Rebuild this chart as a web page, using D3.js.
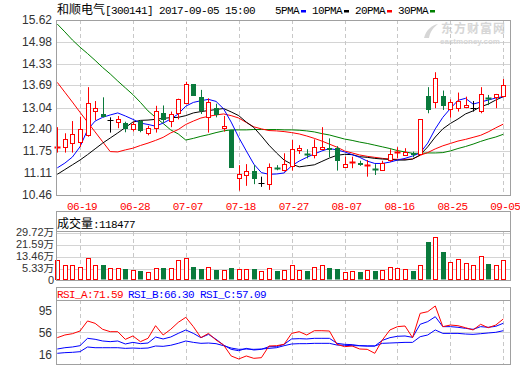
<!DOCTYPE html>
<html>
<head>
<meta charset="utf-8">
<script src="https://cdn.jsdelivr.net/npm/d3@7"></script>
<style>
  html, body { margin: 0; padding: 0; background: #fff; }
  svg { display: block; }
</style>
</head>
<body>
<div id="chart"></div>
<script>
// ---- data ----
const dates = ["06-14","06-15","06-16","06-19","06-20","06-21","06-22","06-23","06-26","06-27",
  "06-28","06-29","06-30","07-03","07-04","07-05","07-06","07-07","07-10","07-11",
  "07-12","07-13","07-14","07-17","07-18","07-19","07-20","07-21","07-24","07-25",
  "07-26","07-27","07-28","07-31","08-01","08-02","08-03","08-04","08-07","08-08",
  "08-09","08-10","08-11","08-14","08-15","08-16","08-17","08-18","08-21","08-22",
  "08-23","08-24","08-25","08-28","08-29","08-30","08-31","09-01","09-04","09-05"];
const tickDates = ["06-19","06-28","07-07","07-18","07-27","08-07","08-16","08-25","09-05"];

const open  = [11.83,11.87,11.98,12.01,12.21,12.95,12.85,12.67,12.59,12.57,12.38,12.63,12.28,12.46,12.87,12.65,12.87,13.18,13.73,13.34,
  12.74,13.02,12.44,12.38,10.95,11.07,11.17,10.80,10.80,11.27,11.20,11.32,11.77,11.68,11.64,11.82,11.84,11.84,11.28,11.40,
  11.39,11.31,11.23,11.20,11.49,11.69,11.62,11.69,11.67,13.38,13.19,13.38,12.99,13.03,13.05,13.02,12.94,13.33,13.34,13.39];
const high  = [12.46,12.28,12.64,12.77,13.64,13.23,13.34,12.75,12.79,12.62,12.62,12.67,12.50,13.09,13.10,12.92,13.30,13.80,13.73,13.56,
  13.31,13.15,12.79,12.38,11.34,11.37,11.34,11.00,11.39,11.34,11.69,12.08,11.93,11.81,12.10,12.46,12.13,11.90,11.59,11.59,
  11.47,11.49,11.37,11.47,11.81,11.87,11.84,11.74,12.69,13.64,14.08,13.54,13.28,13.48,13.36,13.23,13.64,13.41,13.44,13.88];
const low   = [11.71,11.71,11.71,11.88,12.18,12.67,12.75,12.30,12.43,12.31,12.33,12.31,12.22,12.30,12.59,12.46,12.69,13.14,13.39,12.85,
  12.30,12.75,12.33,11.27,10.59,10.73,10.78,10.70,10.61,11.19,11.15,11.18,11.67,11.54,11.54,11.82,11.57,11.18,11.28,11.25,
  11.32,11.00,11.05,11.20,11.44,11.54,11.62,11.57,11.64,12.87,13.02,12.97,12.74,12.92,13.02,12.92,12.87,13.11,13.02,13.34];
const close = [11.87,12.10,12.25,12.40,13.16,13.03,12.75,12.67,12.69,12.40,12.54,12.34,12.43,12.95,12.67,12.85,13.28,13.73,13.39,12.92,
  13.19,12.82,12.49,11.27,11.08,11.18,10.92,10.80,11.29,11.25,11.37,11.81,11.84,11.66,11.88,11.88,11.79,11.47,11.37,11.42,
  11.32,11.33,11.21,11.41,11.66,11.72,11.72,11.62,12.69,12.97,13.90,13.09,13.19,13.23,13.11,13.02,13.44,13.30,13.44,13.70];

const ma5  = [11.26,11.40,11.58,11.88,12.38,12.64,12.75,12.82,12.88,12.79,12.69,12.58,12.54,12.49,12.58,12.70,12.85,13.08,13.19,13.24,
  13.28,13.22,13.00,12.61,12.16,11.76,11.37,11.12,11.07,11.08,11.11,11.32,11.46,11.57,11.67,11.76,11.83,11.79,11.73,11.65,
  11.57,11.46,11.39,11.39,11.43,11.49,11.54,11.61,11.70,11.99,12.41,12.75,13.01,13.25,13.31,13.14,13.20,13.26,13.32,13.36];
const ma10 = [11.07,11.21,11.35,11.49,11.65,11.82,11.99,12.14,12.29,12.45,12.61,12.66,12.67,12.69,12.72,12.74,12.75,12.80,12.88,12.92,
  12.95,12.98,13.01,12.91,12.80,12.61,12.45,12.20,11.93,11.70,11.49,11.37,11.29,11.32,11.35,11.45,11.55,11.63,11.66,11.65,
  11.59,11.57,11.54,11.52,11.51,11.49,11.49,11.52,11.64,11.88,12.17,12.41,12.57,12.70,12.85,12.94,13.06,13.14,13.26,13.36];
const ma20 = [13.78,13.49,13.20,12.90,12.61,12.32,12.03,11.74,11.73,11.79,11.84,11.92,11.99,12.07,12.16,12.29,12.39,12.54,12.64,12.73,
  12.78,12.82,12.85,12.80,12.73,12.60,12.47,12.41,12.36,12.35,12.33,12.30,12.26,12.20,12.13,12.05,11.96,11.87,11.76,11.70,
  11.64,11.60,11.57,11.54,11.52,11.51,11.51,11.52,11.63,11.71,11.82,11.91,11.98,12.05,12.10,12.16,12.22,12.32,12.44,12.55];
const ma30 = [15.50,15.27,15.03,14.82,14.63,14.43,14.22,14.03,13.82,13.62,13.42,13.19,12.94,12.75,12.57,12.38,12.26,12.08,12.13,12.19,
  12.24,12.30,12.35,12.38,12.38,12.38,12.39,12.39,12.39,12.39,12.38,12.38,12.37,12.35,12.32,12.27,12.23,12.17,12.11,12.07,
  12.02,11.98,11.93,11.88,11.83,11.77,11.73,11.69,11.69,11.70,11.70,11.71,11.76,11.83,11.89,11.96,12.04,12.11,12.17,12.25];

// volume in 万
const volume = [11.65,8.27,8.27,6.71,12.8,8.27,8.27,6.03,6.03,5.35,4.88,4.2,3.3,6.03,6.03,6.03,11.65,12.8,6.71,5.35,
  6.71,4.88,4.88,6.03,5.35,5.35,5.35,4.2,6.03,4.4,4.88,8.06,4.88,4.4,6.71,8.06,6.23,5.56,3.3,4.2,
  3.52,4.88,4.4,4.88,6.71,6.03,5.35,4.4,8.27,24.1,27.0,17.3,10.3,12.1,9.4,8.27,14.4,8.9,8.27,11.8477];

const rsiA = [48.5,51.8,53.4,56.7,69.1,66.2,58.8,55.9,55.9,46.4,50.6,43.6,47.7,63.3,51.8,58.8,67.4,73.6,62.1,48.5,
  53.8,45.6,39.4,25.9,22.2,25.9,23.0,23.8,38.2,38.6,40.3,53.8,55.9,51.8,57.1,57.1,56.7,40.3,37.4,38.2,
  34.5,34.1,29.2,45.6,58.0,62.1,62.9,48.5,78.5,80.6,87.6,62.1,64.1,63.3,60.8,58.0,65.0,60.8,64.1,71.59];
const rsiB = [34.5,36.1,37.0,38.6,47.7,46.5,44.4,43.6,44.4,40.7,42.7,41.1,41.9,49.3,46.9,49.3,53.8,58.0,53.8,48.5,
  52.6,46.5,39.4,34.1,32.4,35.3,33.3,34.1,37.4,37.4,40.3,46.9,47.3,46.9,47.7,47.7,47.7,41.5,40.3,39.9,
  38.6,38.2,38.2,45.2,48.5,50.2,50.6,48.9,65.0,68.3,74.4,62.1,62.1,61.3,60.0,58.8,62.1,61.3,62.5,66.30];
const rsiC = [29.2,30.0,30.4,31.2,37.0,36.1,36.1,36.1,36.1,35.3,35.7,35.3,35.7,38.2,37.8,39.1,41.5,44.4,42.7,41.5,
  41.9,41.1,38.6,35.7,34.1,34.5,34.1,34.5,35.3,36.1,38.6,40.7,41.1,41.1,41.5,41.5,41.5,39.4,39.1,38.6,
  38.6,38.2,38.2,41.5,41.9,42.3,42.7,42.7,49.7,51.8,58.0,53.8,53.8,53.8,53.0,52.6,53.4,54.3,55.1,57.09];

const priceTicks = ["15.62","14.98","14.33","13.69","13.04","12.40","11.75","11.11","10.46"];
const volTicks = [29.72, 21.59, 13.46, 5.33];
const rsiTicks = [95, 56, 16];
const maNames = ["5PMA", "10PMA", "20PMA", "30PMA"];
const maColors = ["#0000ff", "#000000", "#ff0000", "#008000"];

// ---- layout ----
const W = 520, H = 365;
const L = 56, R = 510;
const RED = "#ff0000", GREEN = "#0a7a3c", FRAME = "#a0a0a0", GRID = "#d4d4d4", DASH = "#c8c8c8";
const mono = "'Liberation Mono', 'DejaVu Sans Mono', monospace";
const cjk = "'Noto Sans CJK SC', sans-serif";
const sans = "'Liberation Sans', Arial, sans-serif";
const crisp = v => Math.round(v) + 0.5;

const svg = d3.select("#chart").append("svg")
  .attr("width", W).attr("height", H)
  .style("background", "#fff");

const x = d3.scalePoint().domain(dates).range([57.3, 503.3]);
const y = d3.scaleLinear().domain([10.46, 15.62]).range([195, 20]);
const yVol = d3.scaleLinear().domain([0, 29.72]).range([277.2, 233.3]);
const yRsi = d3.scaleLinear().domain([16, 95]).range([364, 300]);

// watermark
const wm = svg.append("g").attr("fill", "#d6d6d6").attr("font-weight", "bold");
wm.append("text").attr("x", 441).attr("y", 33).attr("font-family", cjk).attr("font-size", 12)
  .attr("letter-spacing", 1).text("东方财富网");
wm.append("text").attr("x", 440).attr("y", 44).attr("font-family", sans).attr("font-size", 8)
  .text("eastmoney.com");
wm.append("path").attr("d", "M424,38 C426,30 432,25 438,24 C433,28 430,32 429,38 Z");

// title + legend
const title = svg.append("text").attr("x", 57).attr("y", 14).attr("fill", "#000");
title.append("tspan").attr("font-family", cjk).attr("font-size", 12).text("和顺电气");
title.append("tspan").attr("font-family", mono).attr("font-size", 11).attr("letter-spacing", -0.6)
  .text("[300141] 2017-09-05 15:00");

let lx = 275;
maNames.forEach((n, i) => {
  svg.append("text").attr("x", lx).attr("y", 14)
    .attr("font-family", mono).attr("font-size", 11).attr("letter-spacing", -0.6)
    .text(n);
  lx += n.length * 6 + 2;
  svg.append("rect").attr("x", lx).attr("y", 10).attr("width", 5).attr("height", 2.5).attr("fill", maColors[i]);
  lx += 11;
});

// ---- main price panel ----
const main = svg.append("g");
main.selectAll("line.hg").data(priceTicks).join("line")
  .attr("x1", L).attr("x2", R)
  .attr("y1", d => crisp(y(+d))).attr("y2", d => crisp(y(+d)))
  .attr("stroke", GRID);
main.selectAll("text.pl").data(priceTicks).join("text")
  .attr("x", 52).attr("y", d => y(+d) + 4)
  .attr("text-anchor", "end").attr("font-family", sans).attr("font-size", 12).attr("fill", "#333")
  .text(d => d);

function vgrid(g, top, bottom) {
  g.selectAll("line.vg").data(tickDates).join("line")
    .attr("x1", d => crisp(x(d))).attr("x2", d => crisp(x(d)))
    .attr("y1", top).attr("y2", bottom)
    .attr("stroke", DASH).attr("stroke-dasharray", "4,3");
}
vgrid(main.append("g"), 20, 195);

svg.selectAll("text.xl").data(tickDates).join("text")
  .attr("x", d => x(d) + 2).attr("y", 209.5)
  .attr("text-anchor", "middle").attr("font-family", mono).attr("font-size", 11)
  .attr("letter-spacing", -0.6).attr("fill", RED)
  .text(d => d);

// moving averages
svg.append("clipPath").attr("id", "clipMain").append("rect")
  .attr("x", L).attr("y", 20).attr("width", R - L).attr("height", 175);
const maLine = d3.line().x((d, i) => x(dates[i])).y(d => y(d));
[ma30, ma20, ma10, ma5].forEach((arr, k) => {
  main.append("path").datum(arr)
    .attr("clip-path", "url(#clipMain)")
    .attr("d", maLine)
    .attr("fill", "none").attr("stroke", maColors[3 - k]).attr("stroke-width", 1);
});

// candles
const candles = dates.map((d, i) => ({ d, o: open[i], h: high[i], l: low[i], c: close[i] }));
const cg = main.append("g").selectAll("g").data(candles).join("g");
const candleColor = c => c.c > c.o ? RED : (c.c < c.o ? GREEN : "#000");
cg.append("line")
  .attr("x1", c => crisp(x(c.d))).attr("x2", c => crisp(x(c.d)))
  .attr("y1", c => y(c.h)).attr("y2", c => y(c.l))
  .attr("stroke", candleColor);
cg.each(function (c) {
  const g = d3.select(this);
  const cx = crisp(x(c.d));
  const y0 = y(Math.max(c.o, c.c)), y1 = y(Math.min(c.o, c.c));
  if (y1 - y0 < 1.5) {
    g.append("line").attr("x1", cx - 3).attr("x2", cx + 3)
      .attr("y1", crisp(y0)).attr("y2", crisp(y0))
      .attr("stroke", candleColor(c)).attr("stroke-width", c.o === c.c ? 1 : 2);
  } else if (c.c > c.o) {
    g.append("rect").attr("x", cx - 2).attr("y", crisp(y0)).attr("width", 4)
      .attr("height", Math.round(y1 - y0)).attr("fill", "#fff").attr("stroke", RED);
  } else {
    g.append("rect").attr("x", cx - 2.5).attr("y", Math.round(y0)).attr("width", 5)
      .attr("height", Math.max(1, Math.round(y1 - y0))).attr("fill", GREEN);
  }
});

main.append("rect").attr("x", L + 0.5).attr("y", 20.5).attr("width", R - L).attr("height", 175)
  .attr("fill", "none").attr("stroke", FRAME);

// ---- volume panel ----
const vol = svg.append("g");
vol.selectAll("line.hg").data(volTicks).join("line")
  .attr("x1", L).attr("x2", R)
  .attr("y1", d => crisp(yVol(d))).attr("y2", d => crisp(yVol(d)))
  .attr("stroke", GRID);
vgrid(vol.append("g"), 232, 280);
const volLabels = volTicks.map(v => ({ v, t: v.toFixed(2) })).concat([{ v: 0, t: "0" }]);
const vt = vol.selectAll("text.vl").data(volLabels).join("text")
  .attr("x", 54).attr("y", d => d.v === 0 ? 284 : yVol(d.v) + 3)
  .attr("text-anchor", "end").attr("font-size", 11).attr("fill", "#333");
vt.append("tspan").attr("font-family", sans).text(d => d.t);
vt.filter(d => d.v !== 0).append("tspan").attr("font-family", cjk).attr("font-size", 10.5).text("万");

vol.selectAll("rect.bar").data(candles).join("rect")
  .attr("x", c => c.c >= c.o ? crisp(x(c.d)) - 2 : crisp(x(c.d)) - 2.5)
  .attr("y", (c, i) => c.c >= c.o ? crisp(yVol(volume[i])) : Math.round(yVol(volume[i])))
  .attr("width", c => c.c >= c.o ? 4 : 5)
  .attr("height", (c, i) => 279.5 - Math.round(yVol(volume[i])) - (c.c >= c.o ? 0.5 : 0))
  .attr("fill", c => c.c >= c.o ? "#fff" : GREEN)
  .attr("stroke", c => c.c >= c.o ? RED : "none");

vol.append("rect").attr("x", L + 0.5).attr("y", 211.5).attr("width", R - L).attr("height", 69)
  .attr("fill", "none").attr("stroke", FRAME);
vol.append("line").attr("x1", L).attr("x2", R).attr("y1", 231.5).attr("y2", 231.5).attr("stroke", FRAME);
const vh = vol.append("text").attr("x", 57).attr("y", 227.5).attr("fill", "#000");
vh.append("tspan").attr("font-family", cjk).attr("font-size", 12).text("成交量");
vh.append("tspan").attr("font-family", mono).attr("font-size", 11).attr("letter-spacing", -0.6)
  .text(":" + Math.round(volume[volume.length - 1] * 10000));

// ---- RSI panel ----
const rsi = svg.append("g");
rsi.append("line").attr("x1", L).attr("x2", R)
  .attr("y1", crisp(yRsi(56))).attr("y2", crisp(yRsi(56))).attr("stroke", GRID);
vgrid(rsi.append("g"), 300, 364);
rsi.selectAll("text.rl").data(rsiTicks).join("text")
  .attr("x", 52)
  .attr("y", d => d === 95 ? yRsi(d) + 15 : d === 16 ? yRsi(d) - 5 : yRsi(d) + 5)
  .attr("text-anchor", "end").attr("font-family", sans).attr("font-size", 12).attr("fill", "#333")
  .text(d => d);

svg.append("clipPath").attr("id", "clipRsi").append("rect")
  .attr("x", L).attr("y", 300).attr("width", R - L).attr("height", 64);
const rsiLine = d3.line().x((d, i) => x(dates[i])).y(d => yRsi(d));
[[rsiC, "#0000ff"], [rsiB, "#0000ff"], [rsiA, RED]].forEach(([arr, col]) => {
  rsi.append("path").datum(arr).attr("clip-path", "url(#clipRsi)")
    .attr("d", rsiLine).attr("fill", "none").attr("stroke", col).attr("stroke-width", 1);
});

rsi.append("rect").attr("x", L + 0.5).attr("y", 287.5).attr("width", R - L).attr("height", 77)
  .attr("fill", "none").attr("stroke", FRAME);
rsi.append("line").attr("x1", L).attr("x2", R).attr("y1", 300.5).attr("y2", 300.5).attr("stroke", FRAME);
const rsiHead = [
  ["RSI_A:", rsiA, RED, 57],
  ["RSI_B:", rsiB, "#0000ff", 128],
  ["RSI_C:", rsiC, "#0000ff", 200]
];
rsiHead.forEach(([lab, arr, col, hx]) => {
  rsi.append("text").attr("x", hx).attr("y", 297.5)
    .attr("font-family", mono).attr("font-size", 11).attr("letter-spacing", -0.6).attr("fill", col)
    .text(lab + arr[arr.length - 1].toFixed(2));
});
</script>
</body>
</html>
